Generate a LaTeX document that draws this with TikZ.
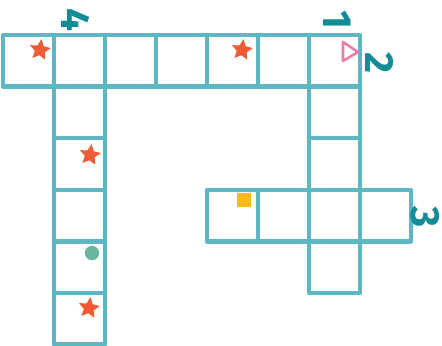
\documentclass[tikz,border=0pt]{standalone}
\usepackage{fontspec}
\setsansfont{Fira Sans}
\usepackage{xcolor}
\usepackage{tikz}
\usetikzlibrary{shapes.geometric}
\definecolor{gridblue}{HTML}{5DB8C4}
\definecolor{numteal}{HTML}{138C98}
\definecolor{starred}{HTML}{F05A35}
\definecolor{pinktri}{HTML}{F27BA6}
\definecolor{dotgreen}{HTML}{6AB5A2}
\definecolor{sqyellow}{HTML}{FDB915}

\begin{document}
\begin{tikzpicture}[x=0.025cm,y=-0.025cm,
  cell/.style={draw=gridblue,line width=3pt,line join=round},
  num/.style={text=numteal,font=\sffamily\bfseries\fontsize{29}{30}\selectfont,rotate=-90,inner sep=0pt},
  mark star/.style={star,star points=5,star point ratio=2.1,fill=starred,inner sep=0pt,minimum size=0.55cm,rotate=-8}]
\useasboundingbox (0,0) rectangle (442,345);
% across: top row and row 3
\foreach \c in {0,...,6} \draw[cell] (3+51*\c,35) rectangle ++(51,51.6);
\foreach \c in {4,5,7} \draw[cell] (3+51*\c,35+3*51.6) rectangle ++(51,51.6);
% down: columns 4 and 1
\foreach \r in {1,...,5} \draw[cell] (54,35+51.6*\r) rectangle ++(51,51.6);
\foreach \r in {1,...,4} \draw[cell] (309,35+51.6*\r) rectangle ++(51,51.6);
% clue numbers
\node[num] (n4) at (76,20) {4};
\node[num] (n1) at (337,20) {1};
\node[num] (n2) at (380,63) {2};
\node[num] (n3) at (425,217) {3};
% marks
\node[mark star] (s1) at (40,50) {};
\node[mark star] (s2) at (242,50) {};
\node[mark star] (s3) at (90,155) {};
\node[mark star] (s4) at (89,308) {};
\node[circle,fill=dotgreen,minimum size=0.36cm,inner sep=0pt] (dot) at (92,253) {};
\node[fill=sqyellow,minimum size=0.35cm,inner sep=0pt] (sq) at (244,200) {};
\draw[pinktri,line width=1.8pt,line join=round] (343,42) -- (358,52) -- (343,61) -- cycle;
\end{tikzpicture}
\end{document}
